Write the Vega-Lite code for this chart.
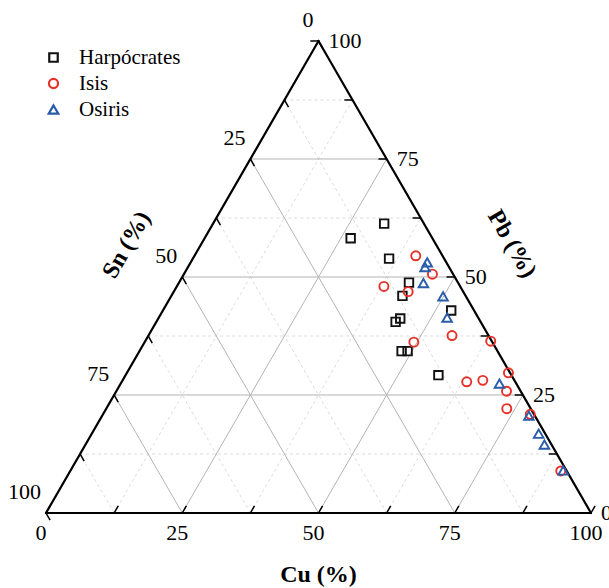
{
  "$schema": "https://vega.github.io/schema/vega-lite/v6.json",
  "width": 545,
  "height": 472,
  "autosize": {"type": "none"},
  "padding": {"left": 46, "top": 41, "right": 18, "bottom": 75},
  "background": "white",
  "config": {"view": {"stroke": null}, "font": "Liberation Serif"},
  "datasets": {
    "points": [
      {"group": "Harpócrates", "Cu": 31.4, "Pb": 61.3, "Sn": 7.3},
      {"group": "Harpócrates", "Cu": 26.8, "Pb": 58.2, "Sn": 15.0},
      {"group": "Harpócrates", "Cu": 36.0, "Pb": 53.9, "Sn": 10.1},
      {"group": "Harpócrates", "Cu": 42.2, "Pb": 48.8, "Sn": 9.0},
      {"group": "Harpócrates", "Cu": 42.4, "Pb": 46.0, "Sn": 11.6},
      {"group": "Harpócrates", "Cu": 44.4, "Pb": 41.2, "Sn": 14.4},
      {"group": "Harpócrates", "Cu": 43.9, "Pb": 40.5, "Sn": 15.6},
      {"group": "Harpócrates", "Cu": 48.1, "Pb": 34.3, "Sn": 17.6},
      {"group": "Harpócrates", "Cu": 49.2, "Pb": 34.3, "Sn": 16.5},
      {"group": "Harpócrates", "Cu": 57.4, "Pb": 29.2, "Sn": 13.4},
      {"group": "Harpócrates", "Cu": 52.9, "Pb": 42.9, "Sn": 4.2},
      {"group": "Isis", "Cu": 40.6, "Pb": 54.5, "Sn": 4.9},
      {"group": "Isis", "Cu": 45.6, "Pb": 50.6, "Sn": 3.8},
      {"group": "Isis", "Cu": 38.0, "Pb": 48.0, "Sn": 14.0},
      {"group": "Isis", "Cu": 43.0, "Pb": 46.9, "Sn": 10.1},
      {"group": "Isis", "Cu": 49.4, "Pb": 36.2, "Sn": 14.4},
      {"group": "Isis", "Cu": 55.7, "Pb": 37.6, "Sn": 6.7},
      {"group": "Isis", "Cu": 63.3, "Pb": 27.8, "Sn": 8.9},
      {"group": "Isis", "Cu": 63.4, "Pb": 36.4, "Sn": 0.2},
      {"group": "Isis", "Cu": 66.1, "Pb": 28.1, "Sn": 5.8},
      {"group": "Isis", "Cu": 70.0, "Pb": 29.7, "Sn": 0.3},
      {"group": "Isis", "Cu": 71.6, "Pb": 25.8, "Sn": 2.6},
      {"group": "Isis", "Cu": 73.5, "Pb": 22.1, "Sn": 4.4},
      {"group": "Isis", "Cu": 78.4, "Pb": 20.9, "Sn": 0.7},
      {"group": "Isis", "Cu": 90.0, "Pb": 8.9, "Sn": 1.1},
      {"group": "Osiris", "Cu": 43.4, "Pb": 53.1, "Sn": 3.5},
      {"group": "Osiris", "Cu": 43.5, "Pb": 52.1, "Sn": 4.4},
      {"group": "Osiris", "Cu": 44.9, "Pb": 48.7, "Sn": 6.4},
      {"group": "Osiris", "Cu": 49.9, "Pb": 45.9, "Sn": 4.2},
      {"group": "Osiris", "Cu": 52.9, "Pb": 41.4, "Sn": 5.7},
      {"group": "Osiris", "Cu": 69.5, "Pb": 27.4, "Sn": 3.1},
      {"group": "Osiris", "Cu": 78.3, "Pb": 20.6, "Sn": 1.1},
      {"group": "Osiris", "Cu": 82.0, "Pb": 16.8, "Sn": 1.2},
      {"group": "Osiris", "Cu": 84.2, "Pb": 14.5, "Sn": 1.3},
      {"group": "Osiris", "Cu": 90.4, "Pb": 9.0, "Sn": 0.6}
    ],
    "ticks": [
      {"comp": "Cu", "v": 0}, {"comp": "Cu", "v": 12.5}, {"comp": "Cu", "v": 25}, {"comp": "Cu", "v": 37.5}, {"comp": "Cu", "v": 50}, {"comp": "Cu", "v": 62.5}, {"comp": "Cu", "v": 75}, {"comp": "Cu", "v": 87.5}, {"comp": "Cu", "v": 100},
      {"comp": "Pb", "v": 0}, {"comp": "Pb", "v": 12.5}, {"comp": "Pb", "v": 25}, {"comp": "Pb", "v": 37.5}, {"comp": "Pb", "v": 50}, {"comp": "Pb", "v": 62.5}, {"comp": "Pb", "v": 75}, {"comp": "Pb", "v": 87.5}, {"comp": "Pb", "v": 100},
      {"comp": "Sn", "v": 0}, {"comp": "Sn", "v": 12.5}, {"comp": "Sn", "v": 25}, {"comp": "Sn", "v": 37.5}, {"comp": "Sn", "v": 50}, {"comp": "Sn", "v": 62.5}, {"comp": "Sn", "v": 75}, {"comp": "Sn", "v": 87.5}, {"comp": "Sn", "v": 100}
    ],
    "titles": [
      {"name": "Cu (%)", "tx": 50, "ty": 0},
      {"name": "Sn (%)", "tx": 25, "ty": 43.3},
      {"name": "Pb (%)", "tx": 75, "ty": 43.3}
    ]
  },
  "layer": [
    {
      "data": {"name": "ticks"},
      "transform": [
        {"filter": "datum.v > 0 && datum.v < 100 && datum.v % 25 != 0"},
        {"calculate": "datum.comp == 'Cu' ? datum.v : datum.comp == 'Pb' ? datum.v / 2 : 100 - datum.v", "as": "gx"},
        {"calculate": "datum.comp == 'Pb' ? datum.v * 0.8660254 : 0", "as": "gy"},
        {"calculate": "datum.comp == 'Cu' ? (100 + datum.v) / 2 : datum.comp == 'Pb' ? 100 - datum.v / 2 : (100 - datum.v) / 2", "as": "gx2"},
        {"calculate": "datum.comp == 'Pb' ? datum.v * 0.8660254 : (100 - datum.v) * 0.8660254", "as": "gy2"}
      ],
      "mark": {"type": "rule", "stroke": "#d2d2d2", "strokeWidth": 0.8, "strokeDash": [3, 3]},
      "encoding": {
        "x": {"field": "gx", "type": "quantitative", "scale": {"domain": [0, 100], "nice": false, "zero": false}, "axis": null},
        "y": {"field": "gy", "type": "quantitative", "scale": {"domain": [0, 86.6], "nice": false, "zero": false}, "axis": null},
        "x2": {"field": "gx2"},
        "y2": {"field": "gy2"}
      }
    },
    {
      "data": {"name": "ticks"},
      "transform": [
        {"filter": "datum.v > 0 && datum.v < 100 && datum.v % 25 == 0"},
        {"calculate": "datum.comp == 'Cu' ? datum.v : datum.comp == 'Pb' ? datum.v / 2 : 100 - datum.v", "as": "gx"},
        {"calculate": "datum.comp == 'Pb' ? datum.v * 0.8660254 : 0", "as": "gy"},
        {"calculate": "datum.comp == 'Cu' ? (100 + datum.v) / 2 : datum.comp == 'Pb' ? 100 - datum.v / 2 : (100 - datum.v) / 2", "as": "gx2"},
        {"calculate": "datum.comp == 'Pb' ? datum.v * 0.8660254 : (100 - datum.v) * 0.8660254", "as": "gy2"}
      ],
      "mark": {"type": "rule", "stroke": "#b4b4b4", "strokeWidth": 1},
      "encoding": {
        "x": {"field": "gx", "type": "quantitative", "scale": {"domain": [0, 100], "nice": false, "zero": false}, "axis": null},
        "y": {"field": "gy", "type": "quantitative", "scale": {"domain": [0, 86.6], "nice": false, "zero": false}, "axis": null},
        "x2": {"field": "gx2"},
        "y2": {"field": "gy2"}
      }
    },
    {
      "data": {"name": "ticks"},
      "transform": [
        {"calculate": "datum.comp == 'Cu' ? datum.v : datum.comp == 'Pb' ? 100 - datum.v / 2 : (100 - datum.v) / 2", "as": "sx"},
        {"calculate": "datum.comp == 'Cu' ? 0 : datum.comp == 'Pb' ? datum.v * 0.8660254 : (100 - datum.v) * 0.8660254", "as": "sy"},
        {"calculate": "datum.comp == 'Cu' ? datum.sx + 0.75 : datum.comp == 'Pb' ? datum.sx - 1.5 : datum.sx + 0.75", "as": "ex"},
        {"calculate": "datum.comp == 'Cu' ? 1.3 : datum.comp == 'Pb' ? datum.sy : datum.sy - 1.3", "as": "ey"}
      ],
      "mark": {"type": "rule", "stroke": "black", "strokeWidth": 1.5},
      "encoding": {
        "x": {"field": "sx", "type": "quantitative", "scale": {"domain": [0, 100], "nice": false, "zero": false}, "axis": null},
        "y": {"field": "sy", "type": "quantitative", "scale": {"domain": [0, 86.6], "nice": false, "zero": false}, "axis": null},
        "x2": {"field": "ex"},
        "y2": {"field": "ey"}
      }
    },
    {
      "data": {"name": "ticks"},
      "transform": [
        {"filter": "datum.v == 0"},
        {"calculate": "datum.comp == 'Cu' ? datum.v : datum.comp == 'Pb' ? datum.v / 2 : 100 - datum.v", "as": "gx"},
        {"calculate": "datum.comp == 'Pb' ? datum.v * 0.8660254 : 0", "as": "gy"},
        {"calculate": "datum.comp == 'Cu' ? (100 + datum.v) / 2 : datum.comp == 'Pb' ? 100 - datum.v / 2 : (100 - datum.v) / 2", "as": "gx2"},
        {"calculate": "datum.comp == 'Pb' ? datum.v * 0.8660254 : (100 - datum.v) * 0.8660254", "as": "gy2"}
      ],
      "mark": {"type": "rule", "stroke": "black", "strokeWidth": 2.2, "strokeCap": "round"},
      "encoding": {
        "x": {"field": "gx", "type": "quantitative", "scale": {"domain": [0, 100], "nice": false, "zero": false}, "axis": null},
        "y": {"field": "gy", "type": "quantitative", "scale": {"domain": [0, 86.6], "nice": false, "zero": false}, "axis": null},
        "x2": {"field": "gx2"},
        "y2": {"field": "gy2"}
      }
    },
    {
      "data": {"name": "ticks"},
      "transform": [
        {"filter": "datum.comp == 'Cu' && datum.v % 25 == 0"}
      ],
      "mark": {"type": "text", "font": "Liberation Serif", "fontSize": 22, "align": "center", "baseline": "middle", "dx": -5, "dy": 20, "color": "black"},
      "encoding": {
        "x": {"field": "v", "type": "quantitative", "scale": {"domain": [0, 100], "nice": false, "zero": false}, "axis": null},
        "y": {"datum": 0, "type": "quantitative", "scale": {"domain": [0, 86.6], "nice": false, "zero": false}, "axis": null},
        "text": {"field": "v", "type": "quantitative", "format": "d"}
      }
    },
    {
      "data": {"name": "ticks"},
      "transform": [
        {"filter": "datum.comp == 'Pb' && datum.v % 25 == 0"},
        {"calculate": "100 - datum.v / 2", "as": "sx"},
        {"calculate": "datum.v * 0.8660254", "as": "sy"}
      ],
      "mark": {"type": "text", "font": "Liberation Serif", "fontSize": 22, "align": "left", "baseline": "middle", "dx": 10, "dy": 0, "color": "black"},
      "encoding": {
        "x": {"field": "sx", "type": "quantitative", "scale": {"domain": [0, 100], "nice": false, "zero": false}, "axis": null},
        "y": {"field": "sy", "type": "quantitative", "scale": {"domain": [0, 86.6], "nice": false, "zero": false}, "axis": null},
        "text": {"field": "v", "type": "quantitative", "format": "d"}
      }
    },
    {
      "data": {"name": "ticks"},
      "transform": [
        {"filter": "datum.comp == 'Sn' && datum.v % 25 == 0"},
        {"calculate": "(100 - datum.v) / 2", "as": "sx"},
        {"calculate": "(100 - datum.v) * 0.8660254", "as": "sy"}
      ],
      "mark": {"type": "text", "font": "Liberation Serif", "fontSize": 22, "align": "right", "baseline": "middle", "dx": -5, "dy": -21, "color": "black"},
      "encoding": {
        "x": {"field": "sx", "type": "quantitative", "scale": {"domain": [0, 100], "nice": false, "zero": false}, "axis": null},
        "y": {"field": "sy", "type": "quantitative", "scale": {"domain": [0, 86.6], "nice": false, "zero": false}, "axis": null},
        "text": {"field": "v", "type": "quantitative", "format": "d"}
      }
    },
    {
      "data": {"name": "titles"},
      "transform": [{"filter": "datum.name == 'Cu (%)'"}],
      "mark": {"type": "text", "font": "Liberation Serif", "fontSize": 24, "fontWeight": "bold", "align": "center", "baseline": "middle", "dy": 62, "color": "black"},
      "encoding": {
        "x": {"field": "tx", "type": "quantitative", "scale": {"domain": [0, 100], "nice": false, "zero": false}, "axis": null},
        "y": {"field": "ty", "type": "quantitative", "scale": {"domain": [0, 86.6], "nice": false, "zero": false}, "axis": null},
        "text": {"field": "name"}
      }
    },
    {
      "data": {"name": "titles"},
      "transform": [{"filter": "datum.name == 'Sn (%)'"}],
      "mark": {"type": "text", "font": "Liberation Serif", "fontSize": 24, "fontWeight": "bold", "align": "center", "baseline": "middle", "angle": -60, "dy": -64, "color": "black"},
      "encoding": {
        "x": {"field": "tx", "type": "quantitative", "scale": {"domain": [0, 100], "nice": false, "zero": false}, "axis": null},
        "y": {"field": "ty", "type": "quantitative", "scale": {"domain": [0, 86.6], "nice": false, "zero": false}, "axis": null},
        "text": {"field": "name"}
      }
    },
    {
      "data": {"name": "titles"},
      "transform": [{"filter": "datum.name == 'Pb (%)'"}],
      "mark": {"type": "text", "font": "Liberation Serif", "fontSize": 24, "fontWeight": "bold", "align": "center", "baseline": "middle", "angle": 60, "dy": -66, "color": "black"},
      "encoding": {
        "x": {"field": "tx", "type": "quantitative", "scale": {"domain": [0, 100], "nice": false, "zero": false}, "axis": null},
        "y": {"field": "ty", "type": "quantitative", "scale": {"domain": [0, 86.6], "nice": false, "zero": false}, "axis": null},
        "text": {"field": "name"}
      }
    },
    {
      "data": {"name": "points"},
      "transform": [
        {"calculate": "datum.Cu + datum.Pb / 2", "as": "px"},
        {"calculate": "datum.Pb * 0.8660254", "as": "py"}
      ],
      "mark": {"type": "point", "filled": false, "strokeWidth": 1.9, "opacity": 1},
      "encoding": {
        "x": {"field": "px", "type": "quantitative", "scale": {"domain": [0, 100], "nice": false, "zero": false}, "axis": null},
        "y": {"field": "py", "type": "quantitative", "scale": {"domain": [0, 86.6], "nice": false, "zero": false}, "axis": null},
        "color": {
          "field": "group", "type": "nominal",
          "scale": {"domain": ["Harpócrates", "Isis", "Osiris"], "range": ["#111111", "#e6322a", "#2a5caa"]},
          "legend": {"title": null, "orient": "none", "legendX": -3, "legendY": 6, "padding": 0, "labelFont": "Liberation Serif", "labelFontSize": 21, "labelColor": "black", "labelLimit": 300, "symbolStrokeWidth": 2.2, "rowPadding": 4, "labelOffset": 15}
        },
        "shape": {
          "field": "group", "type": "nominal",
          "scale": {"domain": ["Harpócrates", "Isis", "Osiris"], "range": ["square", "circle", "triangle-up"]},
          "legend": {"title": null, "orient": "none", "legendX": -3, "legendY": 6, "padding": 0, "labelFont": "Liberation Serif", "labelFontSize": 21, "labelColor": "black", "labelLimit": 300, "symbolStrokeWidth": 2.2, "rowPadding": 4, "labelOffset": 15}
        },
        "size": {
          "field": "group", "type": "nominal",
          "scale": {"domain": ["Harpócrates", "Isis", "Osiris"], "range": [72, 92, 145]},
          "legend": {"title": null, "orient": "none", "legendX": -3, "legendY": 6, "padding": 0, "labelFont": "Liberation Serif", "labelFontSize": 21, "labelColor": "black", "labelLimit": 300, "symbolStrokeWidth": 2.2, "rowPadding": 4, "labelOffset": 15}
        }
      }
    }
  ]
}
